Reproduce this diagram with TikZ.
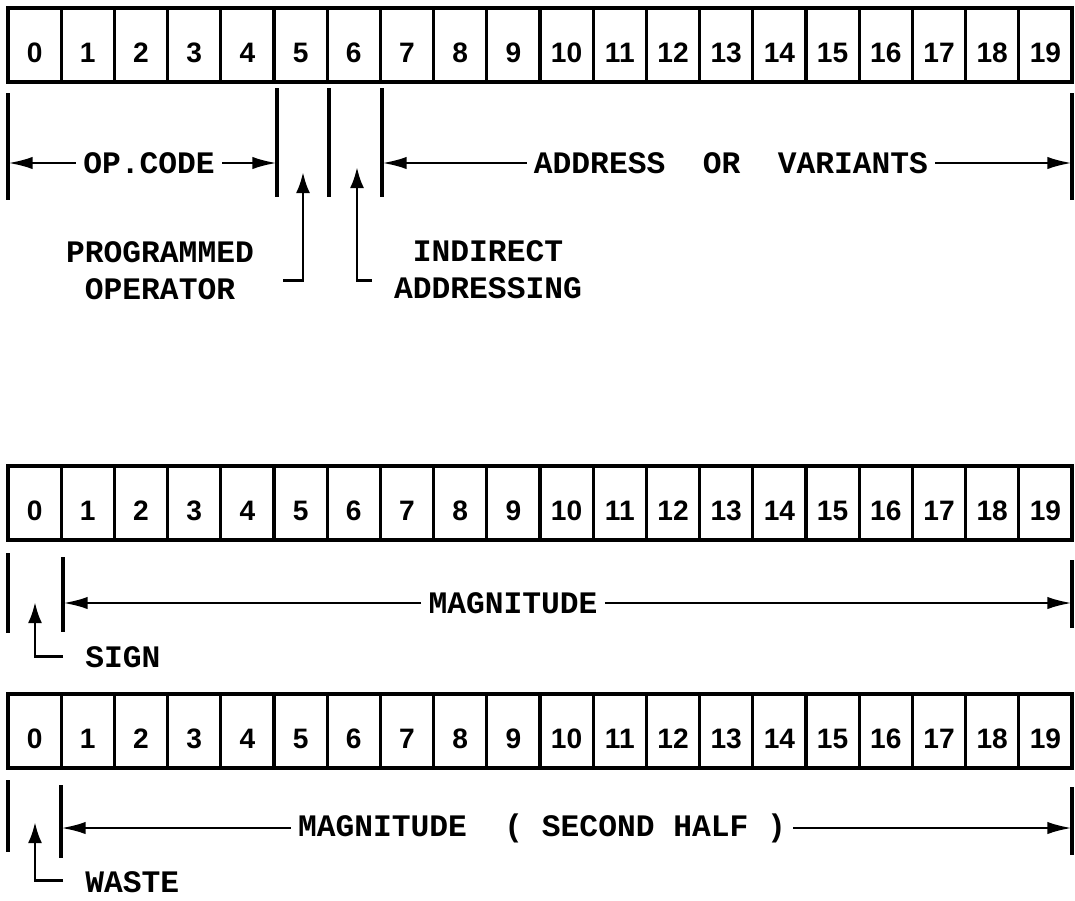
\documentclass[tikz,border=0pt]{standalone}
\usepackage{fontspec}
\newfontfamily\tw{Liberation Mono}
\newfontfamily\dg{Liberation Sans}
\usetikzlibrary{arrows.meta}
\begin{document}
\begin{tikzpicture}[x=0.02cm,y=-0.02cm,
  cell/.style={draw,line width=1.8pt,minimum width=1.064cm,minimum height=1.48cm,
     inner sep=0pt,text height=0.7cm,text depth=0pt,
     font=\dg\bfseries\fontsize{16}{18}\selectfont},
  lbl/.style={font=\tw\bfseries\fontsize{17.8}{21}\selectfont,inner sep=4pt},
  tick/.style={line width=1.9pt},
  dim/.style={line width=1.6pt,-{Latex[length=14pt,width=7pt]}},
  ptr/.style={line width=1.7pt,-{Latex[length=12pt,width=8pt]}}
]
\useasboundingbox (0,0) rectangle (1075,900);
% rows of cells
\foreach \r/\y in {t/45,m/503,b/731}{
  \foreach \i in {0,...,19}{
    \node[cell] (\r\i) at ({8+53.2*(\i+0.5)},\y) {\i};
  }
}
% ---------- top word ----------
\draw[tick] (8,93) -- (8,200);
\draw[tick] (277,88) -- (277,197);
\draw[tick] (329,88) -- (329,197);
\draw[tick] (382,88) -- (382,197);
\draw[tick] (1072,93) -- (1072,200);
\coordinate (op0) at (8,163);
\coordinate (op1) at (277,163);
\coordinate (ad0) at (382,163);
\coordinate (ad1) at (1072,163);
\node[lbl] (opc) at (149,163) {OP.CODE};
\draw[dim] (opc.west) -- (op0);
\draw[dim] (opc.east) -- (op1);
\node[lbl] (adr) at (731,163) {ADDRESS\ \ OR\ \ VARIANTS};
\draw[dim] (adr.west) -- (ad0);
\draw[dim] (adr.east) -- (ad1);
\node[lbl,align=center] (prg) at (160,271) {PROGRAMMED\\OPERATOR};
\node[lbl,align=center] (ind) at (488,270) {INDIRECT\\ADDRESSING};
\coordinate (pa) at (283,280);
\coordinate (pb) at (303,280);
\coordinate (pc) at (303,172);
\draw[ptr] (pa) -- (pb) -- (pc);
\coordinate (ia) at (372,280);
\coordinate (ib) at (357,280);
\coordinate (ic) at (357,167);
\draw[ptr] (ia) -- (ib) -- (ic);
% ---------- middle word ----------
\draw[tick] (8,553) -- (8,633);
\draw[tick] (63,557) -- (63,632);
\draw[tick] (1072,560) -- (1072,628);
\coordinate (mg0) at (63,603);
\coordinate (mg1) at (1072,603);
\node[lbl] (mag) at (513,603) {MAGNITUDE};
\draw[dim] (mag.west) -- (mg0);
\draw[dim] (mag.east) -- (mg1);
\coordinate (sa) at (63,656);
\coordinate (sb) at (35,656);
\coordinate (sc) at (35,602);
\draw[ptr] (sa) -- (sb) -- (sc);
\node[lbl,anchor=west] (sgn) at (78,657) {SIGN};
% ---------- bottom word ----------
\draw[tick] (8,780) -- (8,852);
\draw[tick] (61,785) -- (61,858);
\draw[tick] (1072,787) -- (1072,855);
\coordinate (sh0) at (61,828);
\coordinate (sh1) at (1072,828);
\node[lbl] (sec) at (542,828) {MAGNITUDE\ \ (\ SECOND\ HALF\ )};
\draw[dim] (sec.west) -- (sh0);
\draw[dim] (sec.east) -- (sh1);
\coordinate (wa) at (63,880);
\coordinate (wb) at (35,880);
\coordinate (wc) at (35,822);
\draw[ptr] (wa) -- (wb) -- (wc);
\node[lbl,anchor=west] (wst) at (78,882) {WASTE};
\end{tikzpicture}
\end{document}
